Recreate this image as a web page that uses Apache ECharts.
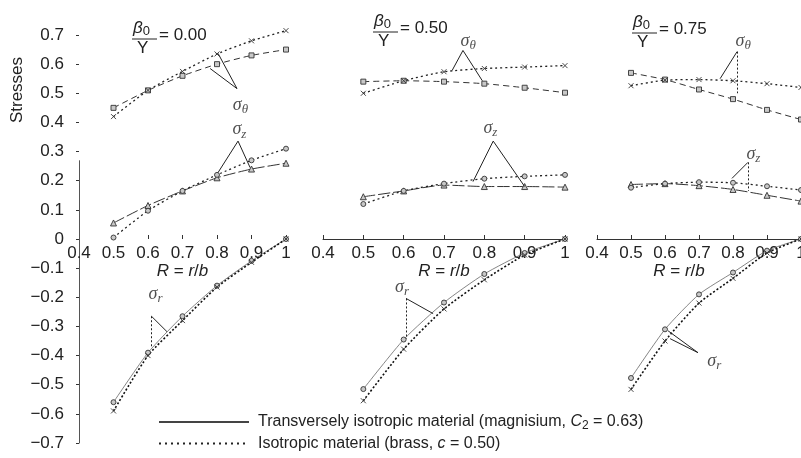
<!DOCTYPE html>
<html>
<head>
<meta charset="utf-8">
<script src="https://cdn.jsdelivr.net/npm/echarts@6/dist/echarts.min.js"></script>
<style>
html, body { margin: 0; background: #fff; }
#main { width: 801px; height: 458px; }
</style>
</head>
<body>
<div id="main"></div>
<script>
// radius ratio R = r/b of the plotted points
var R = [0.5, 0.6, 0.7, 0.8, 0.9, 1.0];
var ratios = ['0.00', '0.50', '0.75'];

// one row per panel (beta0/Y = 0.00, 0.50, 0.75)
// transversely isotropic material (magnisium)
var thetaTI = [[0.45, 0.51, 0.56, 0.60, 0.63, 0.65],
               [0.54, 0.543, 0.54, 0.533, 0.519, 0.502],
               [0.57, 0.547, 0.513, 0.48, 0.443, 0.41]];
var zTI     = [[0.055, 0.115, 0.165, 0.21, 0.24, 0.26],
               [0.145, 0.165, 0.185, 0.18, 0.18, 0.178],
               [0.187, 0.19, 0.183, 0.17, 0.15, 0.13]];
var rTI     = [[-0.56, -0.39, -0.265, -0.16, -0.075, 0],
               [-0.515, -0.345, -0.218, -0.12, -0.048, 0],
               [-0.477, -0.31, -0.19, -0.115, -0.04, 0]];
// isotropic material (brass)
var thetaIso = [[0.42, 0.51, 0.575, 0.635, 0.68, 0.715],
                [0.50, 0.543, 0.574, 0.585, 0.59, 0.595],
                [0.526, 0.545, 0.547, 0.543, 0.533, 0.52]];
var zIso     = [[0.005, 0.097, 0.165, 0.22, 0.27, 0.31],
                [0.12, 0.165, 0.19, 0.207, 0.215, 0.22],
                [0.176, 0.19, 0.195, 0.193, 0.181, 0.168]];
var rIso     = [[-0.59, -0.40, -0.28, -0.165, -0.08, 0],
                [-0.555, -0.378, -0.24, -0.14, -0.055, 0],
                [-0.516, -0.35, -0.22, -0.135, -0.048, 0]];

// callout labels (data coords) and their pointer lines
var callouts = [
  [ {sub: 'θ', at: [0.868, 0.46],  lines: [[[0.858, 0.516], [0.803, 0.637]], [[0.858, 0.516], [0.78, 0.585]]]},
    {sub: 'z', at: [0.865, 0.375], lines: [[[0.861, 0.336], [0.803, 0.228]], [[0.861, 0.336], [0.896, 0.245]]]},
    {sub: 'r', at: [0.622, -0.19], lines: [[[0.61, -0.265], [0.61, -0.37]], [[0.61, -0.265], [0.655, -0.318]]]} ],
  [ {sub: 'θ', at: [0.76, 0.68],   lines: [[[0.747, 0.647], [0.72, 0.578]], [[0.747, 0.647], [0.795, 0.543]]]},
    {sub: 'z', at: [0.815, 0.38],  lines: [[[0.822, 0.336], [0.772, 0.197]], [[0.822, 0.336], [0.90, 0.18]]]},
    {sub: 'r', at: [0.596, -0.165], lines: [[[0.606, -0.204], [0.606, -0.343]], [[0.606, -0.204], [0.673, -0.256]]]} ],
  [ {sub: 'θ', at: [0.83, 0.68],   lines: [[[0.812, 0.643], [0.762, 0.55]], [[0.812, 0.643], [0.812, 0.5]]]},
    {sub: 'z', at: [0.86, 0.29],   lines: [[[0.844, 0.263], [0.797, 0.208]], [[0.844, 0.263], [0.844, 0.165]]]},
    {sub: 'r', at: [0.745, -0.42], lines: [[[0.609, -0.315], [0.697, -0.39]], [[0.615, -0.342], [0.697, -0.39]]]} ]
];
var yLineTop = 0.27; // left axis line is only drawn up to here

var legendTI = 'Transversely isotropic material (magnisium, C2 = 0.63)';
var legendIso = 'Isotropic material (brass, c = 0.50)';

var chart = echarts.init(document.getElementById('main'));
var FONT = 'Liberation Sans';
var INK = '#222';
var xSym = 'path://M0,0L10,10M10,0L0,10';

// each panel is split at stress = 0: upper grid (0..0.7) and lower grid (-0.7..0)
var panelX = [[79, 207], [323, 242], [597, 204]];
var grids = [];
panelX.forEach(function (px) {
  grids.push({left: px[0], width: px[1], top: 35, height: 204, outerBoundsMode: 'none'});
  grids.push({left: px[0], width: px[1], top: 239, height: 204, outerBoundsMode: 'none'});
});

var xAxes = [], yAxes = [], series = [];
var sigmaRich = {
  s: {fontFamily: 'Liberation Serif', fontStyle: 'italic', fontSize: 18, color: INK},
  t: {fontFamily: 'Liberation Serif', fontStyle: 'italic', fontSize: 13, color: INK, padding: [9, 0, 0, 0]}
};

function pts(arr) {
  return R.map(function (x, i) { return [x, arr[i]]; });
}
function yLabel(v) {
  if (Math.abs(v) < 1e-9) return '0';
  return v.toFixed(1).replace('-', '\u2212');
}

for (var p = 0; p < 3; p++) {
  var up = p * 2, lo = p * 2 + 1;
  xAxes.push({
    gridIndex: up, type: 'value', min: 0.4, max: 1, interval: 0.1, position: 'bottom',
    axisLine: {show: p > 0, onZero: false, lineStyle: {color: '#333', width: 1}},
    axisTick: {show: true, inside: true, length: 4, lineStyle: {color: '#333'}},
    axisLabel: {margin: 6, fontSize: 17, fontFamily: FONT, color: INK,
      formatter: function (v) { return String(Math.round(v * 10) / 10); }},
    splitLine: {show: false},
    name: '{i|R} = {i|r}/{i|b}', nameLocation: 'middle', nameGap: 22,
    nameTextStyle: {fontSize: 17, fontFamily: FONT, color: INK,
      padding: p === 2 ? [0, 40, 0, 0] : 0,
      rich: {i: {fontSize: 17, fontFamily: FONT, fontStyle: 'italic', color: INK}}}
  });
  xAxes.push({gridIndex: lo, type: 'value', min: 0.4, max: 1, show: false});

  yAxes.push({
    gridIndex: up, type: 'value', min: 0, max: 0.7, interval: 0.1,
    axisLine: {show: false},
    axisTick: {show: p === 0, length: 3, lineStyle: {color: '#333'}},
    axisLabel: {show: p === 0, margin: 15, fontSize: 17, fontFamily: FONT, color: INK, formatter: yLabel},
    splitLine: {show: false}
  });
  yAxes.push({
    gridIndex: lo, type: 'value', min: -0.7, max: 0, interval: 0.1,
    axisLine: {show: p === 0, lineStyle: {color: '#555', width: 1}},
    axisTick: {show: p === 0, length: 3, lineStyle: {color: '#333'}},
    axisLabel: {show: p === 0, showMaxLabel: false, margin: 15, fontSize: 17, fontFamily: FONT,
      color: INK, formatter: yLabel},
    splitLine: {show: false}
  });

  var sets = [
    {g: up, d: thetaTI[p], sym: 'rect', size: 5, line: {type: [6, 4], width: 1, color: '#333'}},
    {g: up, d: thetaIso[p], sym: xSym, size: 5, line: {type: [2, 3], width: 1.3, color: '#222'}},
    {g: up, d: zTI[p], sym: 'triangle', size: 6, line: {type: [12, 3], width: 1, color: '#333'}},
    {g: up, d: zIso[p], sym: 'circle', size: 5, line: {type: [2, 3], width: 1.3, color: '#222'}},
    {g: lo, d: rTI[p], sym: 'circle', size: 5, line: {type: 'solid', width: 0.8, color: '#666'}},
    {g: lo, d: rIso[p], sym: xSym, size: 5, line: {type: [2, 2], width: 1.6, color: '#111'}}
  ];
  sets.forEach(function (s) {
    series.push({
      type: 'line', xAxisIndex: s.g, yAxisIndex: s.g, data: pts(s.d),
      smooth: 0.2, symbol: s.sym, symbolSize: s.size, showAllSymbol: true, clip: false,
      lineStyle: s.line,
      itemStyle: {color: '#c8c8c8', borderColor: '#333', borderWidth: 0.9},
      z: 3
    });
  });

  [up, lo].forEach(function (g) {
    var mine = callouts[p].filter(function (c) { return (c.sub === 'r') === (g === lo); });
    var segs = [];
    mine.forEach(function (c) {
      c.lines.forEach(function (l) {
        var vertical = l[0][0] === l[1][0];
        segs.push({coords: l, lineStyle: {type: vertical ? [2, 2] : 'solid'}});
      });
    });
    if (p === 0 && g === up) segs.push({coords: [[0.4, 0], [0.4, yLineTop]], lineStyle: {color: '#555'}});
    series.push({
      type: 'lines', coordinateSystem: 'cartesian2d', xAxisIndex: g, yAxisIndex: g,
      data: segs, silent: true,
      lineStyle: {color: '#222', width: 1, opacity: 1}, z: 4
    });
    series.push({
      type: 'scatter', xAxisIndex: g, yAxisIndex: g, symbolSize: 1, silent: true,
      itemStyle: {color: 'rgba(0,0,0,0)'},
      data: mine.map(function (c) {
        return {value: c.at, label: {formatter: '{s|σ}{t|' + c.sub + '}'}};
      }),
      label: {show: true, position: 'inside', rich: sigmaRich}, z: 5
    });
  });
}

// legend-only series
series.push({type: 'line', name: legendTI, xAxisIndex: 1, yAxisIndex: 1, data: [],
  symbol: 'none', itemStyle: {color: 'rgba(0,0,0,0)', borderWidth: 0},
  lineStyle: {type: 'solid', width: 1, color: '#444'}});
series.push({type: 'line', name: legendIso, xAxisIndex: 1, yAxisIndex: 1, data: [],
  symbol: 'none', itemStyle: {color: 'rgba(0,0,0,0)', borderWidth: 0},
  lineStyle: {type: [2, 4], width: 1.8, color: '#222'}});

// panel titles: beta0 / Y = value
var titleAnchors = [[132, 39], [373, 32], [632, 33]];
var graphics = [{
  type: 'text', x: 17, y: 90, rotation: Math.PI / 2,
  style: {text: 'Stresses', fontSize: 17, fontFamily: FONT, fill: INK, align: 'center', verticalAlign: 'middle'}
}];
titleAnchors.forEach(function (a, i) {
  graphics.push({type: 'line', shape: {x1: a[0], y1: a[1], x2: a[0] + 25, y2: a[1]},
    style: {stroke: INK, lineWidth: 1}});
  graphics.push({type: 'text', x: a[0] + 1, y: a[1] - 1,
    style: {text: '{b|β}{o|0}', verticalAlign: 'bottom', align: 'left',
      rich: {b: {fontSize: 17, fontFamily: FONT, fontStyle: 'italic', fill: INK},
             o: {fontSize: 13, fontFamily: FONT, fill: INK, padding: [6, 0, 0, 0]}}}});
  graphics.push({type: 'text', x: a[0] + 5, y: a[1] + 1,
    style: {text: 'Y', fontSize: 17, fontFamily: FONT, fill: INK, verticalAlign: 'top'}});
  graphics.push({type: 'text', x: a[0] + 27, y: a[1] - 4,
    style: {text: '= ' + ratios[i], fontSize: 17, fontFamily: FONT, fill: INK, verticalAlign: 'middle'}});
});

chart.setOption({
  animation: false,
  backgroundColor: '#fff',
  grid: grids,
  xAxis: xAxes,
  yAxis: yAxes,
  series: series,
  graphic: graphics,
  legend: {
    orient: 'vertical', left: 158, top: 414, padding: 0, itemWidth: 90, itemHeight: 12, itemGap: 4,
    selectedMode: false,
    data: [legendTI, legendIso],
    itemStyle: {color: 'rgba(0,0,0,0)', borderWidth: 0},
    formatter: function (name) {
      if (name === legendTI) return 'Transversely isotropic material (magnisium, {i|C}{sub|2} = 0.63)';
      return 'Isotropic material (brass, {i|c} = 0.50)';
    },
    textStyle: {fontSize: 16, fontFamily: FONT, color: INK, padding: [0, 0, 0, 4],
      rich: {i: {fontSize: 16, fontFamily: FONT, fontStyle: 'italic', color: INK},
             sub: {fontSize: 12, fontFamily: FONT, color: INK, padding: [7, 0, 0, 0]}}}
  }
});
</script>
</body>
</html>
